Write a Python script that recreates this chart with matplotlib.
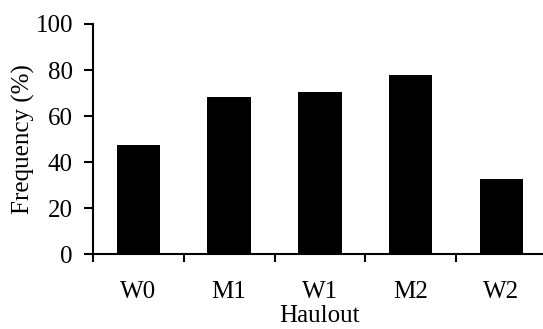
import matplotlib.pyplot as plt
import numpy as np

# frequency per haulout site
haulouts = ["W0", "M1", "W1", "M2", "W2"]
frequencia = [47.5, 68.5, 70.5, 78, 32.5]
yticks = [0, 20, 40, 60, 80, 100]

plt.rcParams["font.family"] = ["Liberation Serif", "DejaVu Serif"]

fig = plt.figure(figsize=(5.43, 3.29), dpi=100)
ax = fig.add_axes([93 / 543, 74.7 / 329, 453.75 / 543, 230.3 / 329])

x = np.arange(len(haulouts))
ax.bar(x, frequencia, width=0.48, color="black")

ax.set_xlim(-0.5, len(haulouts) - 0.5)
ax.set_ylim(0, 100)

# ticks between categories, labels centred under the bars
ax.set_xticks(np.arange(-0.5, len(haulouts), 1.0))
ax.set_xticklabels([])
ax.set_xticks(x, minor=True)
ax.set_xticklabels(haulouts, minor=True, fontsize=18)
ax.tick_params(axis="x", which="major", direction="out", length=5.5, width=1.5)
ax.tick_params(axis="x", which="minor", length=0, pad=19)

ax.set_yticks(yticks)
ax.set_yticklabels([str(v) for v in yticks], fontsize=18)
ax.tick_params(axis="y", direction="out", length=6.5, width=1.5, pad=8)

for lado in ["top", "right"]:
    ax.spines[lado].set_visible(False)
for lado in ["left", "bottom"]:
    ax.spines[lado].set_linewidth(1.5)

ax.set_xlabel("Haulout", fontsize=18, labelpad=2)
ax.set_ylabel("Frequency (%)", fontsize=18, labelpad=0)

fig.savefig("out.png", dpi=100)
